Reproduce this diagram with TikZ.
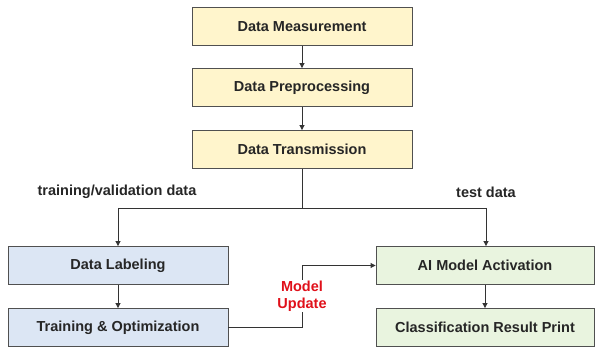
\documentclass[tikz,border=0pt]{standalone}
\usepackage{fontspec}
\setmainfont{Liberation Sans}
\usetikzlibrary{arrows.meta}
\definecolor{yfill}{HTML}{FFF5CC}
\definecolor{bfill}{HTML}{DCE6F4}
\definecolor{gfill}{HTML}{E9F4DF}
\definecolor{bord}{HTML}{505050}
\definecolor{red1}{HTML}{E0101A}
\tikzset{
  box/.style={draw=bord, line width=0.9pt, minimum width=220pt, minimum height=38pt, inner sep=0pt, font=\bfseries\fontsize{14.5}{16}\selectfont, text=black!85},
  ybox/.style={box, fill=yfill},
  bbox/.style={box, fill=bfill},
  gbox/.style={box, fill=gfill, minimum width=218pt},
  conn/.style={draw=black!80, line width=0.9pt},
  arr/.style={conn, -{Triangle[length=5pt,width=5pt]}},
  lbl/.style={font=\bfseries\fontsize{14.5}{16}\selectfont, text=black!85, inner sep=0pt},
}
\begin{document}
\begin{tikzpicture}[x=1pt,y=-1pt]
\useasboundingbox (0,0) rectangle (595,350);
\node[ybox] (m) at (302,26.5) {Data Measurement};
\node[ybox] (p) at (302,87.5) {Data Preprocessing};
\node[ybox] (t) at (302,149.5) {Data Transmission};
\node[bbox] (l) at (118,265.5) {Data Labeling};
\node[bbox] (o) at (118,327.5) {Training \& Optimization};
\node[gbox] (a) at (485,265.5) {AI Model Activation};
\node[gbox] (c) at (485,327.5) {Classification Result Print};
\coordinate (j) at (302,208);
\coordinate (jl) at (118,208);
\coordinate (jr) at (486,208);
\node[lbl] (tv) at (117,192) {training/validation data};
\node[lbl] (td) at (486,192) {test data};
\node[lbl, text=red1, align=center, font=\bfseries\fontsize{14.5}{17}\selectfont, inner sep=1pt] (mu) at (302,296) {Model\\Update};
\draw[arr] (m) -- (p);
\draw[arr] (p) -- (t);
\draw[conn] (t.south) -- (j);
\draw[arr] (jl) -- (jl |- l.north);
\draw[conn] (jl) -- (jr);
\draw[arr] (jr) -- (jr |- a.north);
\draw[arr] (l) -- (o);
\draw[arr] (a) -- (c);
\draw[conn] (o.east) -| (mu.south);
\draw[arr] (mu.north) |- (a.west);
\end{tikzpicture}
\end{document}
